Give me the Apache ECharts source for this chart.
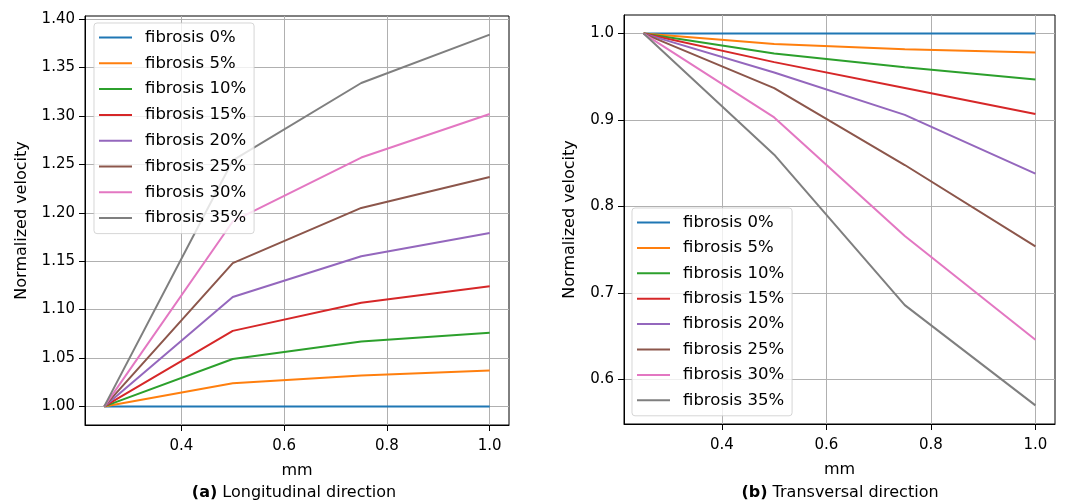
<!DOCTYPE html>
<html>
<head>
<meta charset="utf-8">
<script src="https://cdn.jsdelivr.net/npm/echarts@6/dist/echarts.min.js"></script>
<style>
  html, body { margin: 0; padding: 0; background: #fff; }
  #chart { width: 1072px; height: 504px; }
</style>
</head>
<body>
<div id="chart"></div>
<script>
// Distance along the tissue (mm)
const positions = [0.25, 0.5, 0.75, 1.0];

// Fibrosis levels shown in both panels
const fibrosisLabels = ['fibrosis 0%', 'fibrosis 5%', 'fibrosis 10%', 'fibrosis 15%',
                        'fibrosis 20%', 'fibrosis 25%', 'fibrosis 30%', 'fibrosis 35%'];

// (a) Longitudinal normalized velocity per fibrosis level
const longitudinal0  = [1.000, 1.000, 1.000, 1.000];
const longitudinal5  = [1.000, 1.024, 1.032, 1.037];
const longitudinal10 = [1.000, 1.049, 1.067, 1.076];
const longitudinal15 = [1.000, 1.078, 1.107, 1.124];
const longitudinal20 = [1.000, 1.113, 1.155, 1.179];
const longitudinal25 = [1.000, 1.148, 1.205, 1.237];
const longitudinal30 = [1.000, 1.191, 1.257, 1.302];
const longitudinal35 = [1.000, 1.254, 1.334, 1.384];

// (b) Transversal normalized velocity per fibrosis level
const transversal0  = [1.000, 1.000, 1.000, 1.000];
const transversal5  = [1.000, 0.988, 0.982, 0.978];
const transversal10 = [1.000, 0.977, 0.961, 0.947];
const transversal15 = [1.000, 0.967, 0.937, 0.907];
const transversal20 = [1.000, 0.955, 0.906, 0.838];
const transversal25 = [1.000, 0.937, 0.848, 0.754];
const transversal30 = [1.000, 0.903, 0.766, 0.646];
const transversal35 = [1.000, 0.860, 0.686, 0.570];

// Tick labels
const xTicks = [0.4, 0.6, 0.8, 1.0];
const yTicksLongitudinal = [1.00, 1.05, 1.10, 1.15, 1.20, 1.25, 1.30, 1.35, 1.40];
const yTicksTransversal = [0.6, 0.7, 0.8, 0.9, 1.0];

const longitudinalSets = [longitudinal0, longitudinal5, longitudinal10, longitudinal15,
                          longitudinal20, longitudinal25, longitudinal30, longitudinal35];
const transversalSets = [transversal0, transversal5, transversal10, transversal15,
                         transversal20, transversal25, transversal30, transversal35];

const palette = ['#1f77b4', '#ff7f0e', '#2ca02c', '#d62728',
                 '#9467bd', '#8c564b', '#e377c2', '#7f7f7f'];

const FONT = 'DejaVu Sans';

function pairs(values) {
  return positions.map((x, i) => [x, values[i]]);
}

function makeXAxis(gridIndex) {
  return {
    type: 'value', gridIndex,
    min: 0.2125, max: 1.0375,
    name: 'mm', nameLocation: 'middle', nameGap: 38,
    nameTextStyle: { fontFamily: FONT, fontSize: 16, color: '#000' },
    axisLine: { show: true, lineStyle: { color: '#000', width: 1 } },
    axisTick: { show: true, inside: false, length: 6, customValues: xTicks,
                lineStyle: { color: '#000', width: 1 } },
    axisLabel: { customValues: xTicks, margin: 14, fontFamily: FONT, fontSize: 15, color: '#000',
                 formatter: v => v.toFixed(1) },
    splitLine: { show: true, lineStyle: { color: '#b0b0b0', width: 1 } }
  };
}

function makeYAxis(gridIndex, min, max, ticks, digits, gap) {
  return {
    type: 'value', gridIndex, min, max,
    name: 'Normalized velocity', nameLocation: 'middle', nameGap: gap,
    nameTextStyle: { fontFamily: FONT, fontSize: 16, color: '#000' },
    axisLine: { show: true, lineStyle: { color: '#000', width: 1 } },
    axisTick: { show: true, inside: false, length: 6, customValues: ticks,
                lineStyle: { color: '#000', width: 1 } },
    axisLabel: { customValues: ticks, margin: 10, fontFamily: FONT, fontSize: 15, color: '#000',
                 formatter: v => v.toFixed(digits) },
    splitLine: { show: true, lineStyle: { color: '#b0b0b0', width: 1 } }
  };
}

function makeLegend(left, top, gap) {
  return {
    left, top, orient: 'vertical',
    data: fibrosisLabels,
    icon: 'rect', itemWidth: 33, itemHeight: 2, itemGap: gap,
    padding: [6, 8, 7, 5],
    backgroundColor: 'rgba(255,255,255,0.8)',
    borderColor: 'rgba(204,204,204,0.8)', borderWidth: 1, borderRadius: 3,
    textStyle: { fontFamily: FONT, fontSize: 16.5, color: '#000', lineHeight: 16,
                 padding: [0, 0, 0, 8] },
    selectedMode: false
  };
}

const series = [];
fibrosisLabels.forEach((name, i) => {
  series.push({
    name, type: 'line', xAxisIndex: 0, yAxisIndex: 0,
    data: pairs(longitudinalSets[i]),
    showSymbol: false, symbol: 'none', animation: false,
    lineStyle: { color: palette[i], width: 2 }, itemStyle: { color: palette[i] }
  });
});
fibrosisLabels.forEach((name, i) => {
  series.push({
    name, type: 'line', xAxisIndex: 1, yAxisIndex: 1,
    data: pairs(transversalSets[i]),
    showSymbol: false, symbol: 'none', animation: false,
    lineStyle: { color: palette[i], width: 2 }, itemStyle: { color: palette[i] }
  });
});

const captionRich = {
  b: { fontFamily: FONT, fontSize: 16, fontWeight: 'bold', fill: '#000' },
  n: { fontFamily: FONT, fontSize: 16, fill: '#000' }
};

const option = {
  backgroundColor: '#fff',
  animation: false,
  grid: [
    { left: 85, top: 16, width: 424, height: 409, show: true, borderColor: '#000', borderWidth: 1 },
    { left: 624, top: 15, width: 431, height: 409, show: true, borderColor: '#000', borderWidth: 1 }
  ],
  xAxis: [makeXAxis(0), makeXAxis(1)],
  yAxis: [
    makeYAxis(0, 0.9808, 1.4032, yTicksLongitudinal, 2, 55),
    makeYAxis(1, 0.5485, 1.0215, yTicksTransversal, 1, 46)
  ],
  legend: [makeLegend(94, 23, 8.8), makeLegend(632, 208, 8.4)],
  series,
  graphic: [
    { type: 'text', x: 294, y: 493, style: { text: '{b|(a)}{n| Longitudinal direction}', rich: captionRich,
      align: 'center', verticalAlign: 'middle' } },
    { type: 'text', x: 840, y: 493, style: { text: '{b|(b)}{n| Transversal direction}', rich: captionRich,
      align: 'center', verticalAlign: 'middle' } }
  ]
};

const chart = echarts.init(document.getElementById('chart'), null, { renderer: 'canvas' });
chart.setOption(option);
</script>
</body>
</html>
